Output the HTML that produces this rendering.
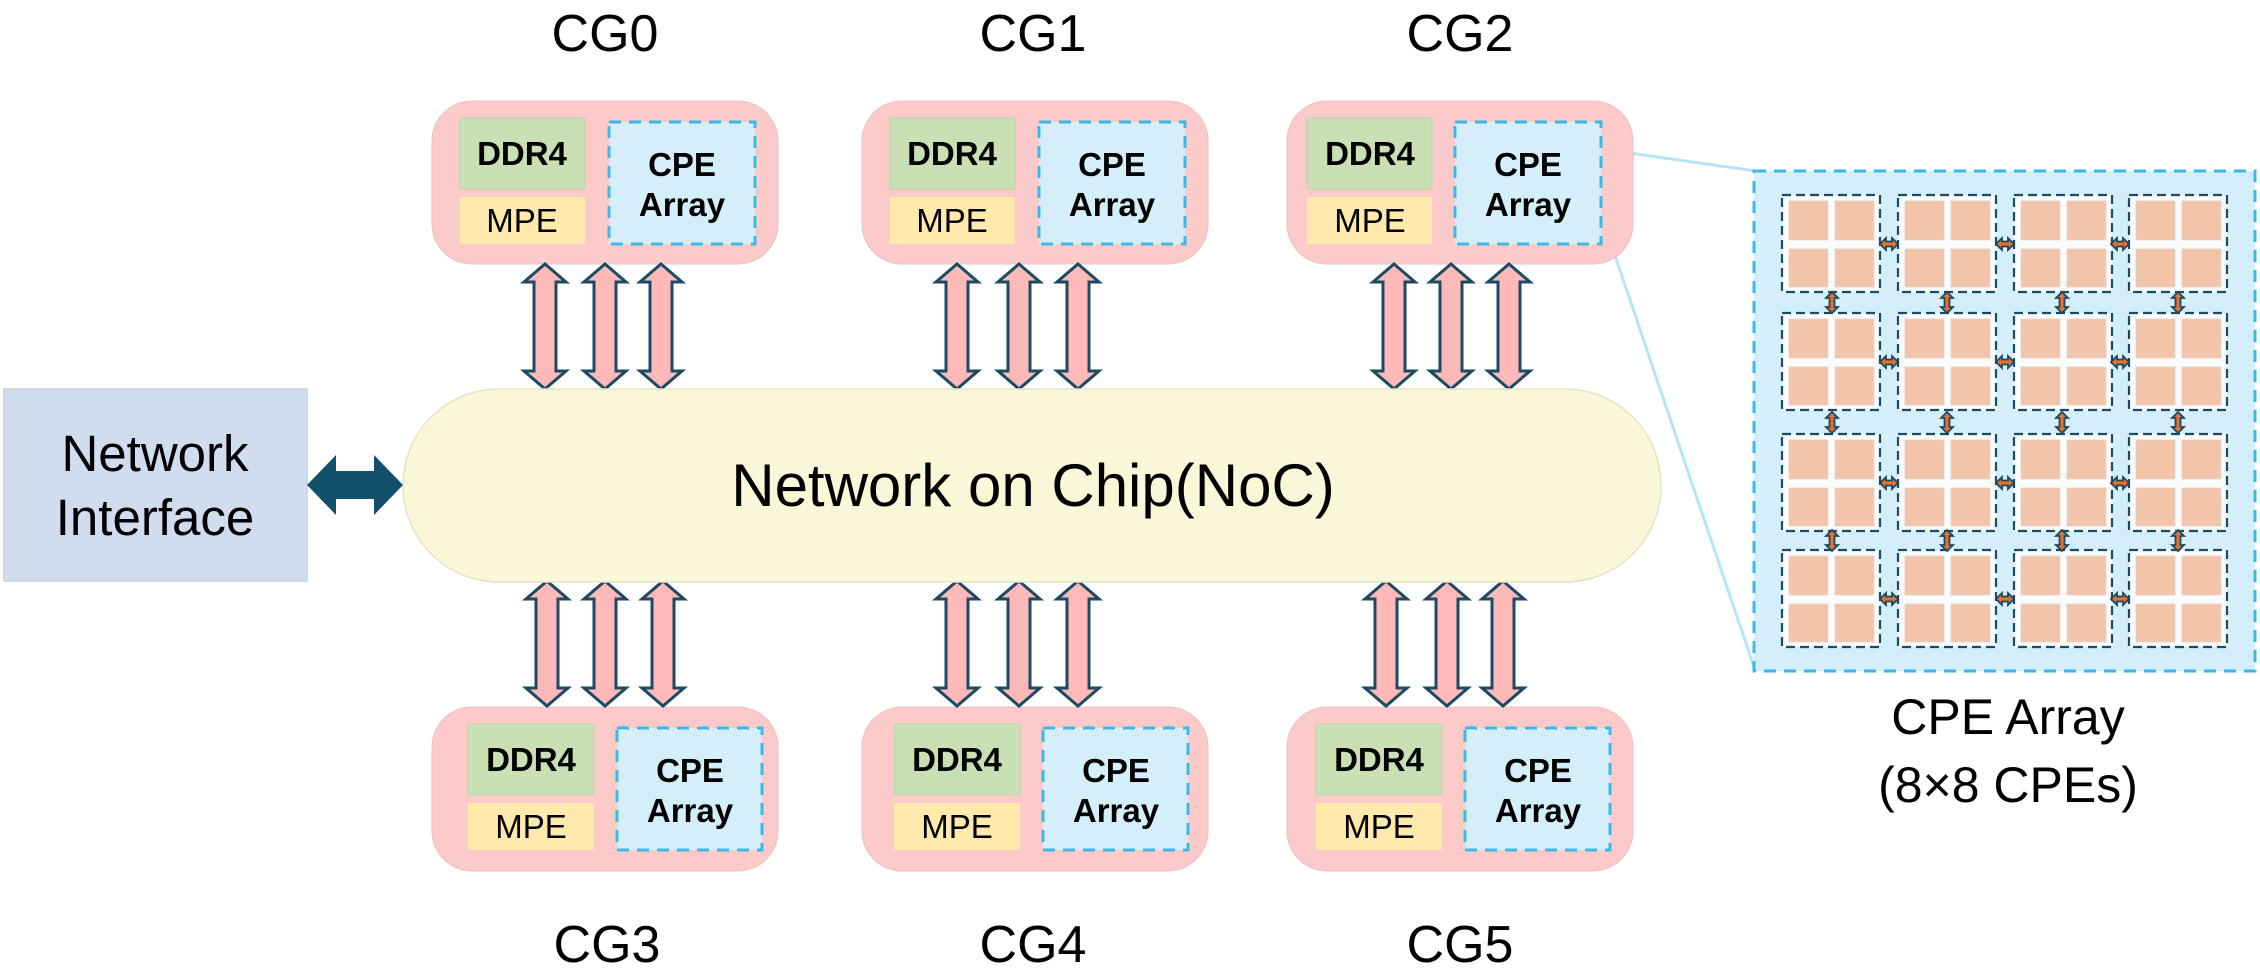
<!DOCTYPE html>
<html><head><meta charset="utf-8"><style>
html,body{margin:0;padding:0;background:#fff;}
svg{display:block;}
text{font-family:"Liberation Sans",sans-serif;fill:#000;}
</style></head><body>
<svg width="2260" height="979" viewBox="0 0 2260 979" xmlns="http://www.w3.org/2000/svg">
<defs>
  <path id="ba" d="M0,0 L21,18 L11,18 L11,107 L21,107 L0,125 L-21,107 L-11,107 L-11,18 L-21,18 Z" fill="#ffb9b9" stroke="#1b4a63" stroke-width="3" stroke-linejoin="miter"/>
  <path id="ha" d="M0,0 L6,-6 L6,-2.5 L12,-2.5 L12,-6 L18,0 L12,6 L12,2.5 L6,2.5 L6,6 Z" fill="#e8702a" stroke="#1b4a63" stroke-width="1.8"/>
  <path id="va" d="M0,0 L-6,6 L-2.5,6 L-2.5,15 L-6,15 L0,21 L6,15 L2.5,15 L2.5,6 L6,6 Z" fill="#e8702a" stroke="#1b4a63" stroke-width="1.8"/>
  <g id="cell">
    <rect x="0" y="0" width="98" height="97" fill="#fafbfc" stroke="#1b4a63" stroke-width="2.2" stroke-dasharray="9 5"/>
    <rect x="7" y="6" width="39" height="39" fill="#f2c5ab" stroke="#e0d0c8" stroke-width="0.8"/>
    <rect x="53" y="6" width="39" height="39" fill="#f2c5ab" stroke="#e0d0c8" stroke-width="0.8"/>
    <rect x="7" y="54" width="39" height="38" fill="#f2c5ab" stroke="#e0d0c8" stroke-width="0.8"/>
    <rect x="53" y="54" width="39" height="38" fill="#f2c5ab" stroke="#e0d0c8" stroke-width="0.8"/>
  </g>
</defs>

<!-- titles -->
<g font-size="52" text-anchor="middle">
<text x="605" y="51">CG0</text>
<text x="1033" y="51">CG1</text>
<text x="1460" y="51">CG2</text>
<text x="607" y="962">CG3</text>
<text x="1033" y="962">CG4</text>
<text x="1460" y="962">CG5</text>
</g>

<!-- zoom lines -->
<line x1="1601" y1="149" x2="1756" y2="171" stroke="#b8e4f8" stroke-width="3"/>
<line x1="1601" y1="214" x2="1755" y2="670" stroke="#b8e4f8" stroke-width="3"/>

<!-- CG boxes top -->
<g>
 <rect x="432" y="101" width="346" height="163" rx="40" fill="#fdcaca" stroke="#ecc0c0" stroke-width="1"/>
 <rect x="460" y="118" width="125" height="71" fill="#c8e0b4" stroke="#bcd4aa"/>
 <rect x="460" y="197" width="125" height="47" fill="#ffe9ad"/>
 <rect x="609" y="122" width="146" height="122" fill="#d4effa" stroke="#3bb8ea" stroke-width="3" stroke-dasharray="12 8"/>
 <rect x="862" y="101" width="346" height="163" rx="40" fill="#fdcaca" stroke="#ecc0c0" stroke-width="1"/>
 <rect x="890" y="118" width="125" height="71" fill="#c8e0b4" stroke="#bcd4aa"/>
 <rect x="890" y="197" width="125" height="47" fill="#ffe9ad"/>
 <rect x="1039" y="122" width="146" height="122" fill="#d4effa" stroke="#3bb8ea" stroke-width="3" stroke-dasharray="12 8"/>
 <rect x="1287" y="101" width="346" height="163" rx="40" fill="#fdcaca" stroke="#ecc0c0" stroke-width="1"/>
 <rect x="1307" y="118" width="125" height="71" fill="#c8e0b4" stroke="#bcd4aa"/>
 <rect x="1307" y="197" width="125" height="47" fill="#ffe9ad"/>
 <rect x="1455" y="122" width="146" height="122" fill="#d4effa" stroke="#3bb8ea" stroke-width="3" stroke-dasharray="12 8"/>
</g>
<!-- CG boxes bottom -->
<g>
 <rect x="432" y="707" width="346" height="164" rx="40" fill="#fdcaca" stroke="#ecc0c0" stroke-width="1"/>
 <rect x="468" y="724" width="126" height="71" fill="#c8e0b4" stroke="#bcd4aa"/>
 <rect x="468" y="803" width="126" height="47" fill="#ffe9ad"/>
 <rect x="617" y="728" width="145" height="122" fill="#d4effa" stroke="#3bb8ea" stroke-width="3" stroke-dasharray="12 8"/>
 <rect x="862" y="707" width="346" height="164" rx="40" fill="#fdcaca" stroke="#ecc0c0" stroke-width="1"/>
 <rect x="894" y="724" width="126" height="71" fill="#c8e0b4" stroke="#bcd4aa"/>
 <rect x="894" y="803" width="126" height="47" fill="#ffe9ad"/>
 <rect x="1043" y="728" width="145" height="122" fill="#d4effa" stroke="#3bb8ea" stroke-width="3" stroke-dasharray="12 8"/>
 <rect x="1287" y="707" width="346" height="164" rx="40" fill="#fdcaca" stroke="#ecc0c0" stroke-width="1"/>
 <rect x="1316" y="724" width="126" height="71" fill="#c8e0b4" stroke="#bcd4aa"/>
 <rect x="1316" y="803" width="126" height="47" fill="#ffe9ad"/>
 <rect x="1465" y="728" width="145" height="122" fill="#d4effa" stroke="#3bb8ea" stroke-width="3" stroke-dasharray="12 8"/>
</g>

<!-- box texts -->
<g font-size="33" text-anchor="middle">
 <text x="522" y="165" font-weight="bold">DDR4</text>
 <text x="522" y="232">MPE</text>
 <text x="682" y="176" font-weight="bold">CPE</text>
 <text x="682" y="216" font-weight="bold">Array</text>
 <text x="952" y="165" font-weight="bold">DDR4</text>
 <text x="952" y="232">MPE</text>
 <text x="1112" y="176" font-weight="bold">CPE</text>
 <text x="1112" y="216" font-weight="bold">Array</text>
 <text x="1370" y="165" font-weight="bold">DDR4</text>
 <text x="1370" y="232">MPE</text>
 <text x="1528" y="176" font-weight="bold">CPE</text>
 <text x="1528" y="216" font-weight="bold">Array</text>

 <text x="531" y="771" font-weight="bold">DDR4</text>
 <text x="531" y="838">MPE</text>
 <text x="690" y="782" font-weight="bold">CPE</text>
 <text x="690" y="822" font-weight="bold">Array</text>
 <text x="957" y="771" font-weight="bold">DDR4</text>
 <text x="957" y="838">MPE</text>
 <text x="1116" y="782" font-weight="bold">CPE</text>
 <text x="1116" y="822" font-weight="bold">Array</text>
 <text x="1379" y="771" font-weight="bold">DDR4</text>
 <text x="1379" y="838">MPE</text>
 <text x="1538" y="782" font-weight="bold">CPE</text>
 <text x="1538" y="822" font-weight="bold">Array</text>
</g>

<!-- big arrows -->
<use href="#ba" x="545" y="264"/><use href="#ba" x="605" y="264"/><use href="#ba" x="661" y="264"/>
<use href="#ba" x="957" y="264"/><use href="#ba" x="1019" y="264"/><use href="#ba" x="1078" y="264"/>
<use href="#ba" x="1394" y="264"/><use href="#ba" x="1451" y="264"/><use href="#ba" x="1509" y="264"/>
<use href="#ba" x="547" y="581"/><use href="#ba" x="605" y="581"/><use href="#ba" x="663" y="581"/>
<use href="#ba" x="957" y="581"/><use href="#ba" x="1019" y="581"/><use href="#ba" x="1078" y="581"/>
<use href="#ba" x="1386" y="581"/><use href="#ba" x="1447" y="581"/><use href="#ba" x="1503" y="581"/>

<!-- NoC -->
<rect x="403" y="389" width="1258" height="193" rx="96" fill="#faf6d8" stroke="#e6e2c8" stroke-width="1.5"/>
<text x="1033" y="506" font-size="60" text-anchor="middle">Network on Chip(NoC)</text>

<!-- Network interface -->
<rect x="4" y="389" width="303" height="192" fill="#d0ddee" stroke="#c2cfe0" stroke-width="1.5"/>
<text x="155" y="471" font-size="51" text-anchor="middle">Network</text>
<text x="155" y="535" font-size="51" text-anchor="middle">Interface</text>
<path d="M307,485 L336,455 L336,471 L374,471 L374,455 L403,485 L374,515 L374,499 L336,499 L336,515 Z" fill="#13506b"/>

<!-- CPE zoom panel -->
<rect x="1754" y="171" width="501" height="500" fill="#d4effa" stroke="#3bb8ea" stroke-width="3" stroke-dasharray="12 8"/>
<g>
 <use href="#cell" x="1782" y="195"/><use href="#cell" x="1898" y="195"/><use href="#cell" x="2014" y="195"/><use href="#cell" x="2129" y="195"/>
 <use href="#cell" x="1782" y="313"/><use href="#cell" x="1898" y="313"/><use href="#cell" x="2014" y="313"/><use href="#cell" x="2129" y="313"/>
 <use href="#cell" x="1782" y="434"/><use href="#cell" x="1898" y="434"/><use href="#cell" x="2014" y="434"/><use href="#cell" x="2129" y="434"/>
 <use href="#cell" x="1782" y="550"/><use href="#cell" x="1898" y="550"/><use href="#cell" x="2014" y="550"/><use href="#cell" x="2129" y="550"/>
</g>
<g>
 <use href="#ha" x="1880" y="244"/><use href="#ha" x="1996" y="244"/><use href="#ha" x="2111" y="244"/>
 <use href="#ha" x="1880" y="362"/><use href="#ha" x="1996" y="362"/><use href="#ha" x="2111" y="362"/>
 <use href="#ha" x="1880" y="483"/><use href="#ha" x="1996" y="483"/><use href="#ha" x="2111" y="483"/>
 <use href="#ha" x="1880" y="599"/><use href="#ha" x="1996" y="599"/><use href="#ha" x="2111" y="599"/>
 <use href="#va" x="1832" y="292"/><use href="#va" x="1947" y="292"/><use href="#va" x="2062" y="292"/><use href="#va" x="2178" y="292"/>
 <use href="#va" x="1832" y="412"/><use href="#va" x="1947" y="412"/><use href="#va" x="2062" y="412"/><use href="#va" x="2178" y="412"/>
 <use href="#va" x="1832" y="530"/><use href="#va" x="1947" y="530"/><use href="#va" x="2062" y="530"/><use href="#va" x="2178" y="530"/>
</g>
<text x="2008" y="734" font-size="50" text-anchor="middle">CPE Array</text>
<text x="2008" y="802" font-size="50" text-anchor="middle">(8×8 CPEs)</text>
</svg>
</body></html>
